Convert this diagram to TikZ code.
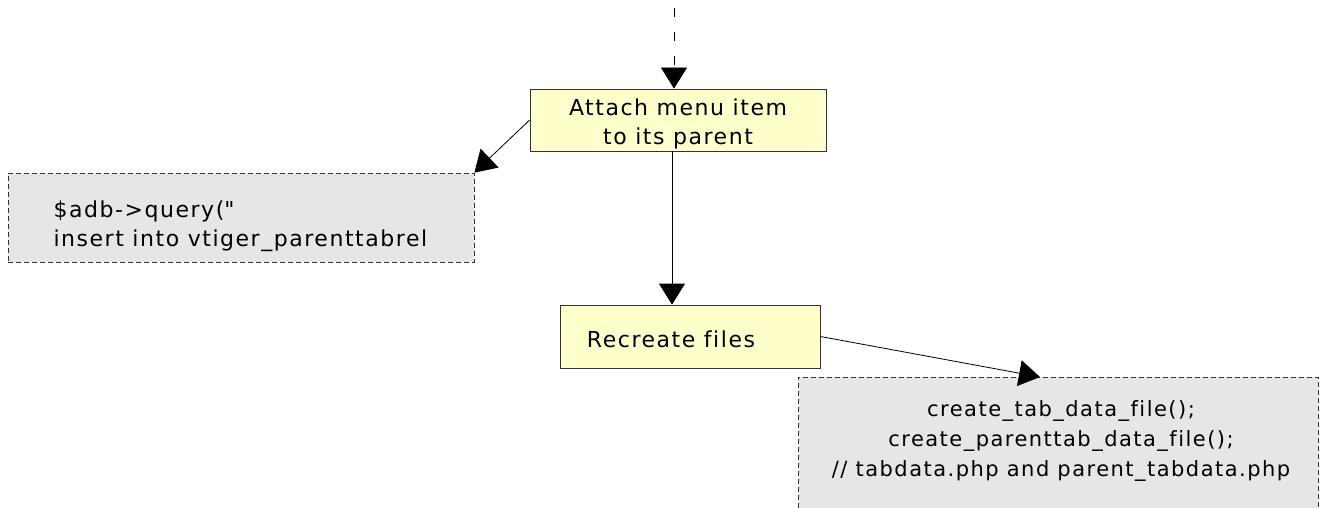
\documentclass[tikz,border=0pt]{standalone}
\usepackage{fontspec}
\setmainfont{DejaVu Sans}[LetterSpace=7,Ligatures={NoCommon}]
\usetikzlibrary{arrows.meta}
\definecolor{boxyellow}{RGB}{255,255,204}
\definecolor{boxgray}{RGB}{230,230,230}
\definecolor{edge}{RGB}{51,51,51}
\tikzset{
  stepbox/.style={draw=edge,line width=0.8pt,fill=boxyellow,minimum width=#1,inner sep=0pt},
  notebox/.style={draw=edge,line width=0.8pt,fill=boxgray,dash pattern=on 5pt off 3pt,inner sep=0pt},
  bigtext/.style={font=\fontsize{22}{29}\selectfont},
  smalltext/.style={font=\fontsize{21}{30}\selectfont},
  flow/.style={line width=0.8pt,-{Triangle[length=21pt,width=26pt]}},
}
\begin{document}
\begin{tikzpicture}[x=1pt,y=-1pt]
\useasboundingbox (0,0) rectangle (1320,508);
% boxes
\node[stepbox=296pt,minimum height=62pt] (attach) at (678,120) {};
\node[bigtext,align=center] (attachtext) at (678,124) {Attach menu item\\to its parent};
\node[notebox,minimum width=466pt,minimum height=89pt] (query) at (241,217.5) {};
\node[bigtext,anchor=west,align=left] (querytext) at (50,226) {\$adb->query(\textquotedbl\\insert into vtiger\_parenttabrel};
\node[stepbox=260pt,minimum height=63pt] (recreate) at (690,336.5) {};
\node[bigtext,anchor=center] (recreatetext) at (671,339) {Recreate files};
\node[notebox,minimum width=520pt,minimum height=170pt,anchor=north] (files) at (1058,377) {};
\node[smalltext,align=center] (filestext) at (1061,441) {create\_tab\_data\_file();\\create\_parenttab\_data\_file();\\// tabdata.php and parent\_tabdata.php};
% connectors
\coordinate (top) at (674,0);
\draw[flow,dash pattern=on 9pt off 15pt,dash phase=16pt] (top) -- (top |- attach.north);
\draw[flow] (attach.west) -- (query.north east);
\draw[flow] ([xshift=-6pt]attach.south) -- ([xshift=-18pt]recreate.north);
\draw[flow] (recreate.east) -- ([xshift=-18pt]files.north);
\end{tikzpicture}
\end{document}
